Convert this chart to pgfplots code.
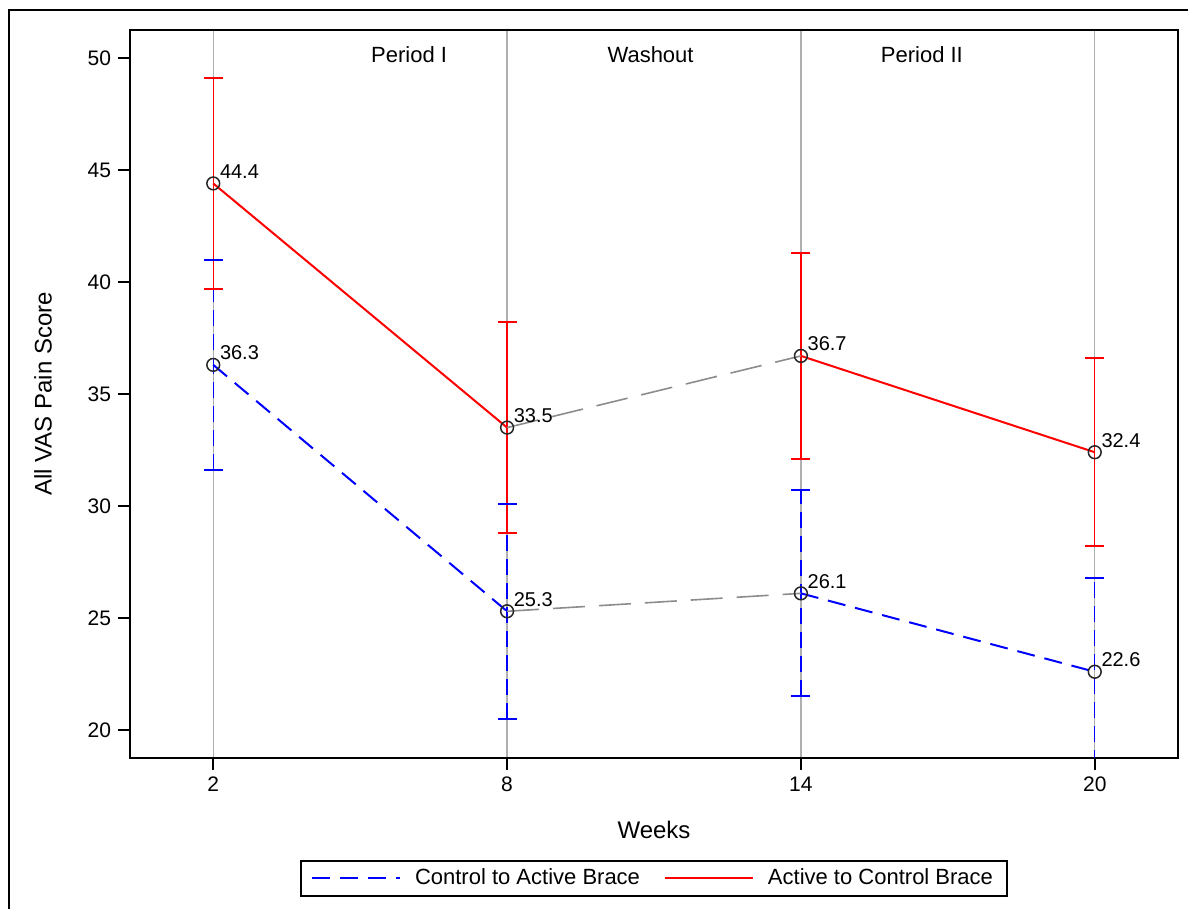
\documentclass[border=0pt]{standalone}
\usepackage{pgfplots}
\pgfplotsset{compat=1.18}
\usepackage{fontspec}
\setmainfont{Liberation Sans}

\definecolor{ctlblue}{RGB}{0,0,255}
\definecolor{actred}{RGB}{255,0,0}
\definecolor{washgray}{RGB}{140,140,140}
\definecolor{gridgray}{RGB}{175,175,175}

\begin{document}
\begin{tikzpicture}
\begin{axis}[
    name=main,
    at={(0,0)}, anchor=south west,
    scale only axis,
    width=524pt, height=364pt,
    xmin=0.3, xmax=21.7,
    ymin=18.75, ymax=51.25,
    xtick={2,8,14,20},
    ytick={20,25,30,35,40,45,50},
    tick pos=left,
    tick align=outside,
    major tick length=6pt,
    tick style={black, line width=0.8pt},
    axis line style={line width=1pt},
    xmajorgrids,
    major x grid style={gridgray, line width=0.7pt},
    unbounded coords=jump,
    /pgf/number format/assume math mode=true,
    ticklabel style={font=\fontsize{10.5}{12}\selectfont},
    xlabel={Weeks},
    ylabel={All VAS Pain Score},
    label style={font=\fontsize{12}{14}\selectfont},
    xlabel style={at={(axis description cs:0.5,0)}, anchor=center, yshift=-36pt},
    ylabel style={at={(axis description cs:-0.083,0.5)}, anchor=center},
    legend style={at={(0.5,-0.1401)}, anchor=north, draw=black, line width=0.8pt,
        legend columns=2, font=\fontsize{11}{13}\selectfont,
        inner xsep=5pt, inner ysep=2pt,
        /tikz/every odd column/.append style={column sep=5pt},
        /tikz/every even column/.append style={column sep=10pt}},
    legend image code/.code={\draw[#1] (0pt,0pt) -- (44pt,0pt);},
]

% error bars: lower and upper limits at each visit
\addplot[ctlblue, line width=0.6pt, dash pattern=on 8pt off 4pt, forget plot,
    mark=-, mark size=4.75pt, mark options={ctlblue, solid, line width=1pt}]
    coordinates {
    (2,31.6) (2,41.0) (2,nan)
    (8,20.5) (8,30.1) (8,nan)
    (14,21.5) (14,30.7) (14,nan)
    (20,18.4) (20,26.8)
    };
\addplot[actred, line width=0.6pt, forget plot,
    mark=-, mark size=4.75pt, mark options={actred, line width=1pt}]
    coordinates {
    (2,39.7) (2,49.1) (2,nan)
    (8,28.8) (8,38.2) (8,nan)
    (14,32.1) (14,41.3) (14,nan)
    (20,28.2) (20,36.6)
    };

% period I
\addplot[ctlblue, line width=1pt, dash pattern=on 9pt off 5pt, mark=none]
    coordinates {(2,36.3) (8,25.3)};
\addlegendentry{Control to Active Brace}
\addplot[actred, line width=1pt, mark=none]
    coordinates {(2,44.4) (8,33.5)};
\addlegendentry{Active to Control Brace}

% washout
\addplot[washgray, line width=0.8pt, dash pattern=on 16pt off 7pt, mark=none, forget plot]
    coordinates {(8,25.3) (14,26.1)};
\addplot[washgray, line width=0.8pt, dash pattern=on 16pt off 7pt, mark=none, forget plot]
    coordinates {(8,33.5) (14,36.7)};

% period II
\addplot[ctlblue, line width=1pt, dash pattern=on 9pt off 5pt, mark=none, forget plot]
    coordinates {(14,26.1) (20,22.6)};
\addplot[actred, line width=1pt, mark=none, forget plot]
    coordinates {(14,36.7) (20,32.4)};

% means with labels
\addplot[only marks, mark=o, mark size=3.2pt, black!85, mark options={line width=0.75pt, fill=none}, forget plot,
    nodes near coords, point meta=y,
    nodes near coords style={black, anchor=base west, inner sep=0pt, xshift=3pt, yshift=2.5pt,
        font=\fontsize{10}{12}\selectfont,
        /pgf/number format/.cd, fixed, fixed zerofill, precision=1, assume math mode=true}]
    coordinates {
    (2,36.3) (8,25.3) (14,26.1) (20,22.6)
    (2,44.4) (8,33.5) (14,36.7) (20,32.4)
    };

\node[font=\fontsize{11}{13}\selectfont] at (axis cs:6,50.13) {Period I};
\node[font=\fontsize{11}{13}\selectfont] at (axis cs:10.93,50.13) {Washout};
\node[font=\fontsize{11}{13}\selectfont] at (axis cs:16.47,50.13) {Period II};
\end{axis}

% outer frame
\draw[line width=1pt] (-60.5pt,-90pt) -- (-60.5pt,374pt) -- (540pt,374pt);

\pgfresetboundingbox
\useasboundingbox (-65pt,-75.5pt) rectangle (529pt,379pt);
\end{tikzpicture}
\end{document}
